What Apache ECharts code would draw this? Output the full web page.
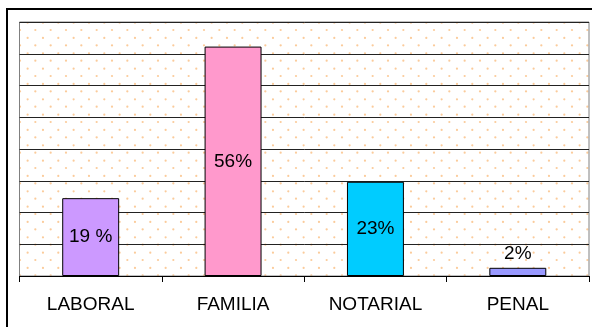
<!DOCTYPE html>
<html>
<head>
<meta charset="utf-8">
<script src="https://cdn.jsdelivr.net/npm/echarts@6/dist/echarts.min.js"></script>
<style>
  html, body { margin: 0; padding: 0; background: #fff; }
  #chart { width: 592px; height: 327px; }
</style>
</head>
<body>
<div id="chart"></div>
<script>
// Share of cases by area
const categories = ['LABORAL', 'FAMILIA', 'NOTARIAL', 'PENAL'];
const values = [19, 56, 23, 2];
const valueLabels = ['19 %', '56%', '23%', '2%'];
const barColors = ['#cc99ff', '#ff99cc', '#00ccff', '#9999ff'];

// Dotted fill for the plot area
function dotPattern() {
  const step = 46 / 3;
  const c = document.createElement('canvas');
  c.width = 46; c.height = 46;
  const g = c.getContext('2d');
  g.fillStyle = 'rgba(250,185,120,0.75)';
  const dot = (x, y) => { g.beginPath(); g.arc(x, y, 1.1, 0, Math.PI * 2); g.fill(); };
  for (let i = -1; i <= 3; i++) {
    for (let j = -1; j <= 3; j++) {
      dot(12.3 + i * step, 7.3 + j * step);
      dot(4.67 + i * step, 14.67 + j * step);
    }
  }
  return { image: c, repeat: 'repeat' };
}

const chart = echarts.init(document.getElementById('chart'), null, { renderer: 'canvas' });
chart.setOption({
  animation: false,
  backgroundColor: '#ffffff',
  textStyle: { fontFamily: 'Liberation Sans, Arial, sans-serif' },
  graphic: [{
    type: 'rect',
    shape: { x: 7, y: 9, width: 640, height: 400 },
    style: { fill: 'none', stroke: '#000', lineWidth: 2 },
    z: 100
  }],
  grid: {
    left: 19.5, right: 3, top: 22, bottom: 51,
    show: true,
    backgroundColor: dotPattern(),
    borderColor: '#808080',
    borderWidth: 1
  },
  xAxis: {
    type: 'category',
    data: categories,
    boundaryGap: true,
    axisLine: { lineStyle: { color: '#000', width: 1 } },
    axisTick: { show: true, length: 6, lineStyle: { color: '#000' } },
    axisLabel: { color: '#000', fontSize: 19, margin: 19 }
  },
  yAxis: {
    type: 'value',
    min: 0, max: 62, interval: 7.75,
    axisLine: { show: false },
    axisTick: { show: false },
    axisLabel: { show: false },
    splitLine: { lineStyle: { color: '#222', width: 1 } }
  },
  series: [{
    type: 'bar',
    barWidth: '40%',
    data: values.map((v, i) => ({
      value: v,
      itemStyle: { color: barColors[i] },
      label: i === 3 ? { position: 'top', distance: 5 } : { position: 'inside' }
    })),
    itemStyle: { borderColor: '#000', borderWidth: 1 },
    label: {
      show: true,
      color: '#000',
      fontSize: 19,
      formatter: p => valueLabels[p.dataIndex]
    }
  }]
});
</script>
</body>
</html>
